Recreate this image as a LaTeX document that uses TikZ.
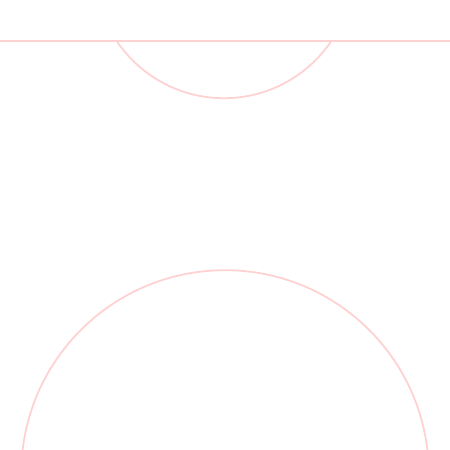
\documentclass[tikz,border=0pt]{standalone}
\usepackage{xcolor}
\usepackage{tikz}
\definecolor{rosepink}{HTML}{FFD2D2}

\begin{document}
\begin{tikzpicture}[
  x=1pt,y=-1pt,
  rim/.style={draw=rosepink,line width=1.8pt}
]
  \useasboundingbox (0,0) rectangle (450,450);
  \coordinate (topc) at (224,-31);
  \coordinate (lowc) at (225,474);
  \draw[rim] (0,40.7) -- (450,40.7);
  \begin{scope}
    \clip (0,40.7) rectangle (450,450);
    \draw[rim] (topc) circle[radius=129.2];
    \draw[rim] (lowc) circle[radius=203.8];
  \end{scope}
\end{tikzpicture}
\end{document}
